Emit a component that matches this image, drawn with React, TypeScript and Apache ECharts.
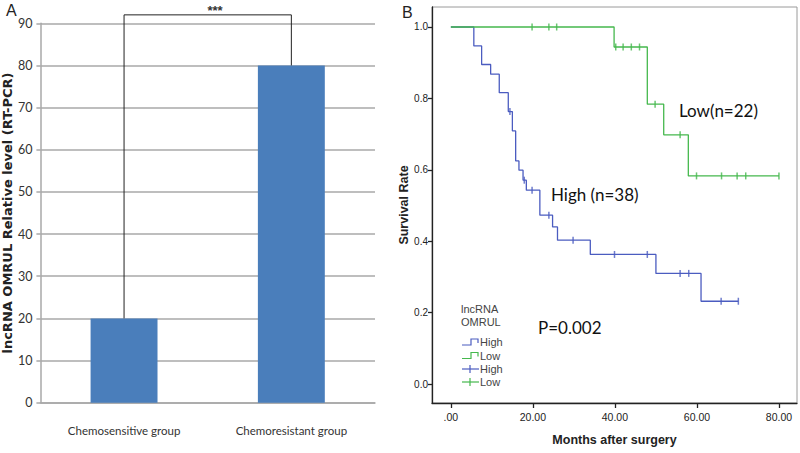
import React, { useEffect, useRef } from "react";
import * as echarts from "echarts";

const barCategories = ["Chemosensitive group", "Chemoresistant group"];
const barValues = [20, 80];
const bracketTop = 92;

const highSteps: [number, number][] = [
  [0, 1], [5.6, 0.947], [7.5, 0.895], [9.7, 0.868], [11.8, 0.816], [14.0, 0.763],
  [15.0, 0.709], [15.8, 0.625], [16.6, 0.599], [17.6, 0.571], [18.4, 0.543],
  [21.7, 0.473], [24.8, 0.44], [26.0, 0.403], [34.0, 0.363], [50.0, 0.31],
  [61.0, 0.232], [70.1, 0.232],
];
const highCensored: [number, number][] = [
  [14.4, 0.763], [17.9, 0.571], [19.8, 0.543], [23.9, 0.473], [29.8, 0.403],
  [39.9, 0.363], [47.9, 0.363], [55.9, 0.31], [58.0, 0.31], [65.9, 0.232], [70.1, 0.232],
];
const lowSteps: [number, number][] = [
  [0, 1], [39.8, 0.944], [47.9, 0.784], [51.9, 0.698], [57.9, 0.583], [80, 0.583],
];
const lowCensored: [number, number][] = [
  [19.8, 1], [23.9, 1], [25.8, 1], [40.2, 0.944], [42, 0.944], [44, 0.944], [46, 0.944],
  [49.8, 0.784], [55.9, 0.698], [59.9, 0.583], [66, 0.583], [69.8, 0.583], [71.9, 0.583], [80, 0.583],
];
const monthTicks = [0, 20, 40, 60, 80];
const survivalTicks = [0, 0.2, 0.4, 0.6, 0.8, 1.0];

const BLUE = "#4b5cc0";
const GREEN = "#45b84d";
const BAR = "#4a7ebb";
const GRID_GRAY = "#a8a8a8";

export default function App() {
  const ref = useRef<HTMLDivElement>(null);
  useEffect(() => {
    document.body.style.margin = "0";
    const chart = echarts.init(ref.current!, null, { renderer: "svg" });
    const legendY = [342, 355.5, 369, 382];
    const legendItems: any[] = [];
    const stepIcon = (y: number, c: string) => ({
      type: "polyline",
      shape: { points: [[462, y + 3], [471, y + 3], [471, y - 3], [478, y - 3], [478, y + 1]] },
      style: { stroke: c, lineWidth: 1.2, fill: null },
    });
    const plusIcon = (y: number, c: string) => [
      { type: "line", shape: { x1: 462, y1: y, x2: 479, y2: y }, style: { stroke: c, lineWidth: 1.2 } },
      { type: "line", shape: { x1: 470, y1: y - 4, x2: 470, y2: y + 4 }, style: { stroke: c, lineWidth: 1.2 } },
    ];
    legendItems.push(stepIcon(legendY[0], BLUE));
    legendItems.push(stepIcon(legendY[1], GREEN));
    legendItems.push(...plusIcon(legendY[2], BLUE));
    legendItems.push(...plusIcon(legendY[3], GREEN));
    const legendLabels = ["High", "Low", "High", "Low"];
    legendLabels.forEach((t, i) => {
      legendItems.push({
        type: "text", x: 480, y: legendY[i],
        style: { text: t, fontSize: 11, fill: "#444", fontFamily: "Liberation Sans", verticalAlign: "middle" },
      });
    });

    chart.setOption({
      animation: false,
      backgroundColor: "#fff",
      grid: [
        { left: 40, right: 425, top: 23.3, bottom: 50.3 },
        { left: 432, right: 3, top: 7, bottom: 50, show: true, borderColor: "#9a9a9a", borderWidth: 1 },
      ],
      xAxis: [
        {
          type: "category", gridIndex: 0, data: barCategories,
          axisLine: { lineStyle: { color: GRID_GRAY, width: 1.5 } },
          axisTick: { length: 5, lineStyle: { color: GRID_GRAY, width: 1.5 } },
          axisLabel: { fontSize: 11.5, color: "#333", margin: 22, fontFamily: "Lato" },
        },
        {
          type: "value", gridIndex: 1, min: -4.6, max: 84.4,
          axisLine: { onZero: false, lineStyle: { color: "#222", width: 1.3 } },
          axisTick: { length: 5, customValues: monthTicks, lineStyle: { color: "#222", width: 1.3 } },
          axisLabel: {
            customValues: monthTicks, fontSize: 10.5, color: "#222", margin: 8, fontFamily: "Liberation Sans",
            formatter: (v: number) => (v === 0 ? ".00" : v.toFixed(2)),
          },
          splitLine: { show: false },
          name: "Months after surgery", nameLocation: "middle", nameGap: 30,
          nameTextStyle: { fontSize: 12.5, fontWeight: "bold", color: "#222", fontFamily: "Liberation Sans" },
        },
      ],
      yAxis: [
        {
          type: "value", gridIndex: 0, min: 0, max: 90, interval: 10,
          axisLine: { show: true, lineStyle: { color: GRID_GRAY, width: 1.5 } },
          axisTick: { show: true, length: 4, lineStyle: { color: GRID_GRAY, width: 1.5 } },
          axisLabel: { fontSize: 12.5, color: "#333", margin: 8, fontFamily: "Lato" },
          splitLine: { lineStyle: { color: GRID_GRAY, width: 1.5 } },
          name: "lncRNA OMRUL Relative level (RT-PCR)", nameLocation: "middle", nameGap: 25,
          nameTextStyle: { fontSize: 13, fontWeight: "bold", color: "#222", fontFamily: "DejaVu Sans" },
        },
        {
          type: "value", gridIndex: 1, min: -0.053, max: 1.056,
          axisLine: { show: true, onZero: false, lineStyle: { color: "#222", width: 1.3 } },
          axisTick: { show: true, length: 4, customValues: survivalTicks, lineStyle: { color: "#222", width: 1.3 } },
          axisLabel: {
            customValues: survivalTicks, fontSize: 10, color: "#222", margin: 4, fontFamily: "Liberation Sans",
            formatter: (v: number) => v.toFixed(1),
          },
          splitLine: { show: false },
          name: "Survival Rate", nameLocation: "middle", nameGap: 22,
          nameTextStyle: { fontSize: 12.5, fontWeight: "bold", color: "#222", fontFamily: "Liberation Sans" },
        },
      ],
      series: [
        {
          type: "bar", xAxisIndex: 0, yAxisIndex: 0, data: barValues, barWidth: "40%",
          itemStyle: { color: BAR },
        },
        {
          type: "line", xAxisIndex: 0, yAxisIndex: 0, clip: false, symbol: "none",
          data: [[0, barValues[0]], [0, bracketTop], [1, bracketTop], [1, barValues[1]]],
          lineStyle: { color: "#222", width: 1 }, z: 5,
        },
        {
          type: "line", xAxisIndex: 1, yAxisIndex: 1, step: "end", symbol: "none",
          data: highSteps, lineStyle: { color: BLUE, width: 1.3 },
        },
        {
          type: "line", xAxisIndex: 1, yAxisIndex: 1, step: "end", symbol: "none",
          data: lowSteps, lineStyle: { color: GREEN, width: 1.3 },
        },
        {
          type: "scatter", xAxisIndex: 1, yAxisIndex: 1, symbol: "rect", symbolSize: [1.5, 7],
          data: highCensored, itemStyle: { color: BLUE },
        },
        {
          type: "scatter", xAxisIndex: 1, yAxisIndex: 1, symbol: "rect", symbolSize: [1.5, 7],
          data: lowCensored, itemStyle: { color: GREEN },
        },
      ],
      graphic: [
        { type: "text", x: 6, y: 2, style: { text: "A", fontSize: 16, fill: "#222", fontFamily: "Liberation Sans" } },
        { type: "text", x: 402, y: 4, style: { text: "B", fontSize: 16, fill: "#222", fontFamily: "Liberation Sans" } },
        { type: "text", x: 215, y: 10, style: { text: "***", fontSize: 13, fontWeight: "bold", fill: "#333", align: "center", verticalAlign: "middle", fontFamily: "Liberation Sans" } },
        { type: "text", x: 679, y: 110, style: { text: "Low(n=22)", fontSize: 17, fill: "#111", verticalAlign: "middle", fontFamily: "Lato" } },
        { type: "text", x: 551, y: 194, style: { text: "High (n=38)", fontSize: 17, fill: "#111", verticalAlign: "middle", fontFamily: "Lato" } },
        { type: "text", x: 538, y: 327, style: { text: "P=0.002", fontSize: 17, fill: "#111", verticalAlign: "middle", fontFamily: "Lato" } },
        { type: "text", x: 461, y: 309, style: { text: "lncRNA", fontSize: 11, fill: "#444", verticalAlign: "middle", fontFamily: "Liberation Sans" } },
        { type: "text", x: 461, y: 322, style: { text: "OMRUL", fontSize: 11, fill: "#444", verticalAlign: "middle", fontFamily: "Liberation Sans" } },
        ...legendItems,
      ],
    });
    return () => chart.dispose();
  }, []);
  return <div ref={ref} style={{ width: 800, height: 453 }} />;
}
